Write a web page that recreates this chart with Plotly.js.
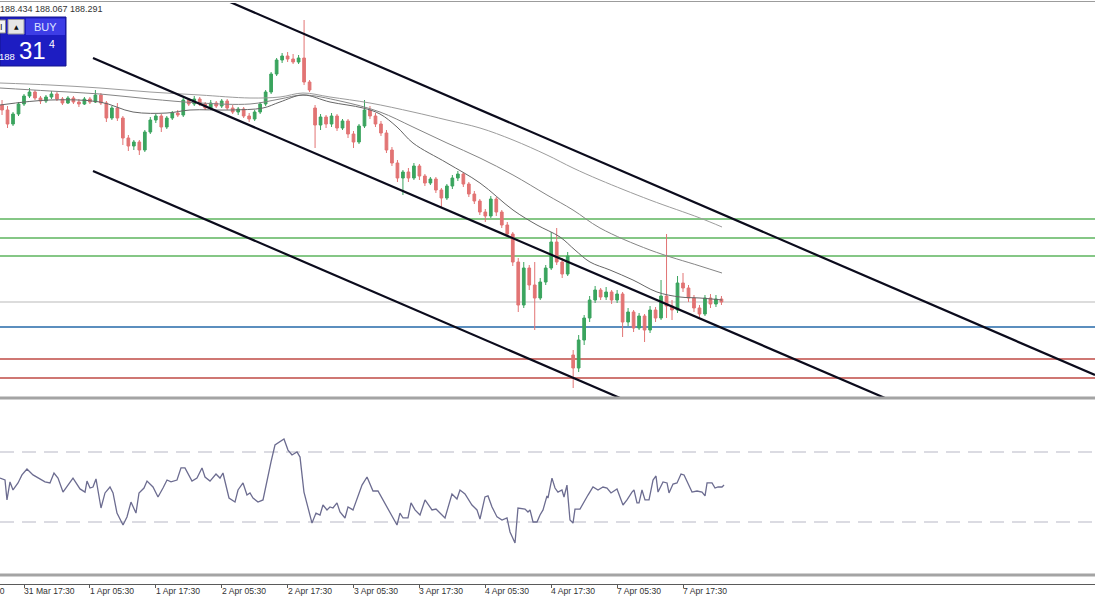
<!DOCTYPE html>
<html><head><meta charset="utf-8">
<script src="https://cdn.plot.ly/plotly-3.0.1.min.js"></script>
<style>html,body{margin:0;padding:0;background:#fff;overflow:hidden}#chart{width:1095px;height:600px;}</style>
</head><body><div id="chart"></div>
<script>
// ---- DATA (hourly bars) ----
const openP = [190.26,190.21,190.07,190.17,190.27,190.35,190.39,190.33,190.30,190.34,
190.37,190.32,190.28,190.33,190.29,190.27,190.32,190.29,190.36,190.28,
190.13,190.23,190.13,189.93,189.85,189.89,189.81,189.99,190.11,190.15,
190.04,190.13,190.18,190.16,190.31,190.27,190.32,190.27,190.23,190.28,
190.25,190.30,190.23,190.19,190.22,190.15,190.12,190.19,190.27,190.39,
190.57,190.71,190.75,190.72,190.69,190.73,190.49,190.23,190.06,190.14,
190.07,190.15,190.03,190.10,189.97,189.89,190.05,190.21,190.15,190.07,
189.98,189.81,189.68,189.53,189.59,189.53,189.65,189.55,189.48,189.52,
189.41,189.33,189.45,189.53,189.57,189.47,189.37,189.30,189.19,189.15,
189.32,189.19,189.06,188.97,188.69,188.26,188.63,188.46,188.33,188.49,
188.63,188.89,188.69,188.57,187.76,187.63,187.91,188.13,188.31,188.41,
188.34,188.39,188.31,188.37,188.09,188.19,188.03,188.15,188.01,188.21,
188.13,188.35,188.25,188.21,188.48,188.43,188.33,188.23,188.17,188.33,
188.27,188.32];
const highP = [190.31,190.25,190.19,190.29,190.37,190.43,190.41,190.35,190.36,190.40,
190.39,190.34,190.35,190.35,190.32,190.34,190.34,190.41,190.38,190.30,
190.25,190.28,190.15,189.96,189.91,189.91,190.01,190.14,190.17,190.17,
190.15,190.20,190.21,190.34,190.33,190.35,190.34,190.29,190.31,190.30,
190.32,190.32,190.26,190.24,190.24,190.18,190.21,190.29,190.41,190.59,
190.73,190.78,190.79,190.77,190.76,191.11,190.51,190.26,190.17,190.16,
190.18,190.17,190.12,190.12,190.00,190.07,190.31,190.25,190.18,190.10,
190.01,189.84,189.71,189.61,189.63,189.68,189.67,189.57,189.54,189.54,
189.43,189.47,189.56,189.60,189.59,189.49,189.40,189.32,189.22,189.35,
189.34,189.21,189.09,188.99,188.73,188.69,188.66,188.69,188.53,188.66,
188.99,189.03,188.73,188.79,187.81,187.96,188.16,188.35,188.45,188.43,
188.44,188.41,188.41,188.39,188.23,188.21,188.18,188.17,188.25,188.24,
188.51,188.97,188.31,188.55,188.58,188.46,188.36,188.26,188.36,188.37,
188.36,188.35];
const lowP = [190.16,190.03,190.05,190.15,190.25,190.33,190.31,190.27,190.28,190.32,
190.30,190.26,190.27,190.27,190.24,190.26,190.27,190.28,190.26,190.09,
190.11,190.10,189.86,189.80,189.81,189.76,189.79,189.97,190.08,189.99,
190.02,190.11,190.14,190.14,190.25,190.25,190.25,190.21,190.21,190.23,
190.23,190.21,190.17,190.16,190.13,190.09,190.10,190.17,190.25,190.37,
190.55,190.68,190.69,190.67,190.67,190.46,190.39,189.83,190.01,190.03,
190.04,190.00,190.01,189.93,189.83,189.87,190.03,190.12,190.04,189.95,
189.78,189.65,189.49,189.36,189.49,189.51,189.51,189.45,189.46,189.38,
189.24,189.31,189.42,189.50,189.44,189.34,189.27,189.16,189.09,189.13,
189.15,189.03,188.94,188.65,188.19,188.23,188.41,188.01,188.31,188.46,
188.61,188.66,188.53,188.55,187.43,187.59,187.86,188.09,188.28,188.31,
188.31,188.27,188.28,187.94,188.05,187.99,188.01,187.89,187.98,188.09,
188.11,188.13,188.11,188.18,188.39,188.29,188.19,188.13,188.15,188.23,
188.24,188.26];
const closeP = [190.21,190.07,190.17,190.27,190.35,190.39,190.33,190.30,190.34,190.37,
190.32,190.28,190.33,190.29,190.27,190.32,190.29,190.36,190.28,190.13,
190.23,190.13,189.93,189.85,189.89,189.81,189.99,190.11,190.15,190.04,
190.13,190.18,190.16,190.31,190.27,190.32,190.27,190.23,190.28,190.25,
190.30,190.23,190.19,190.22,190.15,190.12,190.19,190.27,190.39,190.57,
190.71,190.75,190.72,190.69,190.73,190.49,190.41,190.06,190.14,190.07,
190.15,190.03,190.10,189.97,189.89,190.05,190.21,190.15,190.07,189.98,
189.81,189.68,189.53,189.59,189.53,189.65,189.55,189.48,189.52,189.41,
189.33,189.45,189.53,189.57,189.47,189.37,189.30,189.19,189.15,189.32,
189.19,189.06,188.97,188.69,188.26,188.63,188.46,188.33,188.49,188.63,
188.89,188.69,188.57,188.75,187.63,187.91,188.13,188.31,188.41,188.34,
188.39,188.31,188.37,188.09,188.19,188.03,188.15,188.01,188.21,188.13,
188.35,188.25,188.21,188.48,188.43,188.33,188.23,188.17,188.33,188.27,
188.32,188.29];

// moving averages (read at sparse bar positions)
const maSlowX = [-0.37,8.73,17.84,26.94,36.05,45.15,50.61,54.8,59.72,67.0,74.83,81.02,87.03,93.04,99.23,103.97,108.88,117.99,127.09,131.1];
const maSlowY = [190.48,190.46,190.43,190.39,190.36,190.33,190.34,190.38,190.34,190.28,190.19,190.11,190.03,189.91,189.76,189.63,189.51,189.31,189.13,189.04];
const maMidX = [-0.37,8.73,17.84,26.94,36.05,45.15,50.61,54.8,61.54,68.82,74.83,81.02,87.03,93.04,99.23,103.97,108.88,117.99,127.09,131.1];
const maMidY = [190.43,190.40,190.37,190.32,190.28,190.27,190.32,190.36,190.30,190.19,190.04,189.88,189.73,189.56,189.36,189.21,189.03,188.81,188.65,188.58];
const maFastX = [-0.37,8.73,17.84,23.85,30.04,34.23,41.51,47.52,50.61,54.8,59.72,65.73,68.82,71.92,74.83,81.02,87.03,93.04,97.41,101.6,104.33,107.06,110.7,114.89,119.26,123.45,127.09,131.1];
const maFastY = [190.26,190.31,190.29,190.19,190.18,190.21,190.21,190.23,190.29,190.36,190.29,190.23,190.17,190.04,189.88,189.68,189.48,189.21,189.06,188.94,188.81,188.69,188.61,188.51,188.39,188.34,188.33,188.31];

// oscillator (lower panel)
const oscX = [-0.37,0.54,0.90,1.45,2.00,2.91,3.63,4.54,5.64,6.91,7.82,8.73,9.46,10.19,11.10,12.01,12.92,14.2,15.11,15.47,16.02,16.56,17.11,18.02,18.75,19.66,20.21,20.93,22.03,22.75,23.48,24.39,24.94,25.85,26.4,27.49,28.4,29.31,30.04,30.77,31.86,32.59,33.31,34.59,35.5,36.41,36.96,37.87,38.96,39.69,40.23,41.33,42.42,42.97,43.88,44.6,45.15,45.7,46.61,47.52,48.25,48.98,49.7,50.25,51.34,52.07,52.8,53.71,54.26,54.98,55.71,56.44,57.17,57.9,58.44,59.17,59.72,60.26,60.99,61.54,62.45,63.0,63.91,64.64,65.55,66.46,67.55,68.46,69.37,70.28,71.19,71.92,72.46,73.01,73.92,74.47,75.2,76.11,77.02,78.29,79.02,79.75,80.66,81.93,82.84,83.39,84.3,85.57,86.48,87.03,87.94,88.49,89.22,90.13,91.04,91.95,92.5,93.41,93.95,95.23,95.77,96.14,96.69,97.41,97.96,98.51,99.23,99.41,100.14,100.69,101.23,101.96,102.33,102.87,103.42,103.97,104.33,105.24,106.15,106.7,107.61,108.52,109.43,110.16,110.89,111.61,111.98,113.07,113.8,114.71,115.07,115.62,115.99,116.53,117.08,117.81,118.54,119.08,119.45,120.36,121.09,121.45,122.18,122.91,123.64,124.19,124.73,125.64,126.55,127.46,128.01,128.38,129.28,129.83,130.38,131.1,131.47];
const oscV = [55.1,54.0,42.6,52.9,48.3,52.3,56.9,60.3,56.9,54.6,52.9,52.3,58.0,55.1,47.1,51.1,55.1,48.9,47.1,53.4,49.4,50.0,54.6,38.0,46.6,50.0,46.6,35.1,28.3,32.9,41.4,35.1,46.6,49.4,53.4,50.0,44.3,49.4,54.0,52.9,54.0,60.9,60.9,53.4,55.1,60.9,55.7,53.4,57.4,55.1,58.0,43.7,41.4,48.3,52.3,45.4,46.6,43.7,41.4,42.6,54.0,64.3,74.0,75.1,77.4,71.1,68.3,70.0,67.1,47.1,38.6,29.4,35.1,34.0,39.7,36.9,38.6,38.0,40.9,35.7,32.3,38.6,36.9,43.7,51.1,55.7,47.7,47.7,42.6,36.9,32.3,28.3,35.1,32.3,32.3,40.9,36.9,34.0,42.6,36.9,37.4,35.1,32.3,46.0,43.1,48.3,46.0,39.7,36.9,31.7,44.3,44.9,38.6,32.9,31.1,32.3,24.3,18.0,38.0,37.4,35.7,36.9,30.0,30.0,34.0,36.9,44.9,43.7,55.1,49.4,47.1,48.3,44.3,51.1,31.1,29.4,37.4,37.4,42.6,45.4,50.0,48.3,50.0,49.4,46.6,48.3,48.9,39.7,42.6,47.1,48.3,40.9,40.9,48.3,42.6,42.6,54.0,56.3,47.1,52.9,52.3,46.6,51.7,52.3,57.4,56.9,52.9,47.1,47.7,47.1,44.9,52.3,52.3,49.4,50.0,50.0,51.1];
const oscLevels = [70, 30];

// drawn objects: channel lines (bar index, price) and horizontal levels
const chanUpperX = [41.51, 199.02], chanUpperY = [191.29, 187.56];
const chanMidX = [16.56, 160.78],  chanMidY = [190.73, 187.33];
const chanLowX = [16.56, 112.53],  chanLowY = [189.60, 187.33];
const greenLevels = [189.12, 188.93, 188.75];
const bidLevel = 188.29;
const blueLevel = 188.04;
const redLevels = [187.72, 187.53];

// axis labels
const tickIdx = [4,16,28,40,52,64,76,88,100,112,124];
const tickLabels = ['31 Mar 17:30','1 Apr 05:30','1 Apr 17:30','2 Apr 05:30','2 Apr 17:30','3 Apr 05:30','3 Apr 17:30','4 Apr 05:30','4 Apr 17:30','7 Apr 05:30','7 Apr 17:30'];
const prevLabel = '31 Mar 05:30';
const quoteText = '188.434 188.067 188.291';
const buyBig = '31', buySmall = '188', buyPip = '4';

// ---- LAYOUT HELPERS ----
const W = 1095, H = 600;
const px = x => x / W;
const py = y => 1 - y / H;
const barX = Array.from({length: closeP.length}, (_, i) => i);

const FONT = 'Liberation Sans, Arial, sans-serif';

const traces = [
  {type:'scatter', mode:'lines', x:maSlowX, y:maSlowY, line:{color:'#9c9c9c', width:1, shape:'spline'}, hoverinfo:'skip', xaxis:'x', yaxis:'y'},
  {type:'scatter', mode:'lines', x:maMidX, y:maMidY, line:{color:'#858585', width:1, shape:'spline'}, hoverinfo:'skip', xaxis:'x', yaxis:'y'},
  {type:'scatter', mode:'lines', x:maFastX, y:maFastY, line:{color:'#666666', width:1, shape:'spline'}, hoverinfo:'skip', xaxis:'x', yaxis:'y'},
  {type:'candlestick', x:barX, open:openP, high:highP, low:lowP, close:closeP,
   increasing:{line:{color:'#3aa45e', width:1}, fillcolor:'#3aa45e'},
   decreasing:{line:{color:'#e27474', width:1}, fillcolor:'#e27474'},
   whiskerwidth:0, xaxis:'x', yaxis:'y', hoverinfo:'skip'},
  {type:'scatter', mode:'lines', x:chanUpperX, y:chanUpperY, line:{color:'#0b0b1c', width:2.2}, hoverinfo:'skip', xaxis:'x', yaxis:'y'},
  {type:'scatter', mode:'lines', x:chanMidX, y:chanMidY, line:{color:'#0b0b1c', width:2.2}, hoverinfo:'skip', xaxis:'x', yaxis:'y'},
  {type:'scatter', mode:'lines', x:chanLowX, y:chanLowY, line:{color:'#0b0b1c', width:2.2}, hoverinfo:'skip', xaxis:'x', yaxis:'y'},
  {type:'scatter', mode:'lines', x:oscX, y:oscV, line:{color:'#6c6c90', width:1.3}, hoverinfo:'skip', xaxis:'x', yaxis:'y2'}
];

const shapes = [];
const hline = (y, color, width, ref, dash) => shapes.push({type:'line', xref:'paper', yref:ref, x0:0, x1:1, y0:y, y1:y, line:{color:color, width:width, dash:dash||'solid'}, layer:'below'});
greenLevels.forEach(v => hline(v, '#5cb45e', 1.3, 'y'));
hline(bidLevel, '#b9b9b9', 1.2, 'y');
hline(blueLevel, '#2469a8', 1.5, 'y');
redLevels.forEach(v => hline(v, '#bf4a44', 1.3, 'y'));
oscLevels.forEach(v => hline(v, '#b8b8c6', 1.2, 'y2', '14px,8px'));

const rect = (x0,y0,x1,y1,fill,line) => shapes.push({type:'rect', xref:'paper', yref:'paper', x0:px(x0), x1:px(x1), y0:py(y1), y1:py(y0), fillcolor:fill, line:line||{width:0}, layer:'above'});
// frame lines
shapes.push({type:'line', xref:'paper', yref:'paper', x0:0, x1:1, y0:py(1.5), y1:py(1.5), line:{color:'#9c9c9c', width:1}});
rect(0,396.5,1095,399.5,'#a4a4a4');
rect(0,573.5,1095,576.5,'#a4a4a4');
// trade panel
rect(0,17,66,66,'#1d1dc2',{color:'#14148e', width:1});
rect(26,18.5,65,35,'#3d3de6');
rect(-2,20,5.5,33,'#f4f4f4',{color:'#888', width:1});
rect(8,19.5,24,34,'#e6e6e6',{color:'#999', width:1});

const ann = [];
tickIdx.forEach((t,k) => ann.push({xref:'x', yref:'paper', x:t, y:py(591), text:tickLabels[k], showarrow:false, xanchor:'left', yanchor:'middle', xshift:-2, font:{family:FONT, size:8.6, color:'#333'}}));
ann.push({xref:'paper', yref:'paper', x:px(7), y:py(591), text:prevLabel, showarrow:false, xanchor:'right', yanchor:'middle', font:{family:FONT, size:8.6, color:'#333'}});
ann.push({xref:'paper', yref:'paper', x:px(-2), y:py(9), text:quoteText, showarrow:false, xanchor:'left', yanchor:'middle', font:{family:FONT, size:9, color:'#333'}});
ann.push({xref:'paper', yref:'paper', x:px(45.5), y:py(27), text:'BUY', showarrow:false, xanchor:'center', yanchor:'middle', font:{family:FONT, size:11, color:'#dfe3ff'}});
ann.push({xref:'paper', yref:'paper', x:px(16), y:py(26.5), text:'▲', showarrow:false, xanchor:'center', yanchor:'middle', font:{family:'DejaVu Sans', size:6, color:'#111'}});
ann.push({xref:'paper', yref:'paper', x:px(1.5), y:py(26.5), text:'I', showarrow:false, xanchor:'center', yanchor:'middle', font:{family:FONT, size:9, color:'#111'}});
ann.push({xref:'paper', yref:'paper', x:px(-2), y:py(56), text:buySmall, showarrow:false, xanchor:'left', yanchor:'middle', borderpad:0, font:{family:FONT, size:9.5, color:'#ffffff'}});
ann.push({xref:'paper', yref:'paper', x:px(32.5), y:py(51), text:buyBig, showarrow:false, xanchor:'center', yanchor:'middle', borderpad:0, font:{family:FONT, size:24, color:'#ffffff'}});
ann.push({xref:'paper', yref:'paper', x:px(51.5), y:py(44), text:buyPip, showarrow:false, xanchor:'center', yanchor:'middle', borderpad:0, font:{family:FONT, size:10.5, color:'#ffffff'}});

const layout = {
  width: W, height: H,
  margin:{l:0, r:0, t:0, b:0, pad:0},
  paper_bgcolor:'#ffffff', plot_bgcolor:'#ffffff',
  showlegend:false,
  xaxis:{domain:[0,1], range:[-0.371, 199.02], anchor:'free', position:py(583.5),
         showgrid:false, zeroline:false, showline:true, linecolor:'#5a5a5a', linewidth:1,
         ticks:'outside', ticklen:3, tickwidth:1, tickcolor:'#5a5a5a',
         tickmode:'array', tickvals:tickIdx, showticklabels:false,
         rangeslider:{visible:false}, fixedrange:true},
  yaxis:{domain:[py(398), py(3)], range:[187.33, 191.28], visible:false, fixedrange:true},
  yaxis2:{domain:[py(575), py(403)], range:[-0.29, 98], visible:false, fixedrange:true},
  shapes: shapes,
  annotations: ann
};

Plotly.newPlot('chart', traces, layout, {displayModeBar:false, staticPlot:true});
</script>
</body></html>
